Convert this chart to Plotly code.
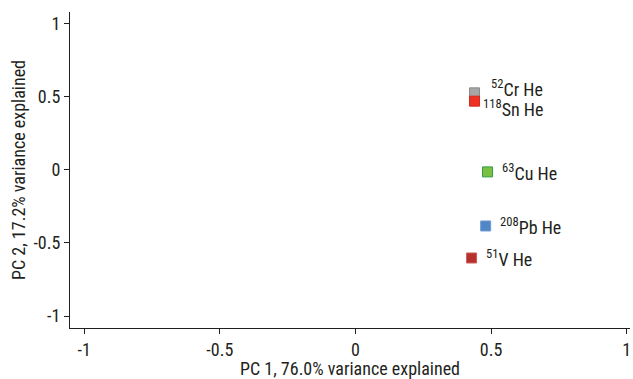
import plotly.graph_objects as go

labels = ["<sup>52</sup>Cr He", "<sup>118</sup>Sn He", "<sup>63</sup>Cu He", "<sup>208</sup>Pb He", "<sup>51</sup>V He"]
pc1 = [0.439, 0.439, 0.487, 0.480, 0.428]
pc2 = [0.527, 0.470, -0.014, -0.384, -0.603]
fill_colors = ["#a6a6a6", "#ee3124", "#7ac143", "#4f86c6", "#b7312c"]
line_colors = ["#8a8a8a", "#d02a20", "#2e9e45", "#6f9bd0", "#d05a5a"]
label_dx = [14, 6, 12, 12, 12]
label_dy = [5, -7, 0, 0, 0]

FONT = "Roboto Condensed, Liberation Sans Narrow, DejaVu Sans Condensed, Roboto, sans-serif"

fig = go.Figure()
fig.add_trace(go.Scatter(
    x=pc1, y=pc2, mode="markers",
    marker=dict(symbol="square", size=10, color=fill_colors,
                line=dict(color=line_colors, width=1)),
    showlegend=False, hoverinfo="skip",
))

for x, y, t, dx, dy in zip(pc1, pc2, labels, label_dx, label_dy):
    fig.add_annotation(x=x, y=y, text=t, showarrow=False, xanchor="left",
                       yanchor="middle", xshift=dx, yshift=dy,
                       font=dict(family=FONT, size=18, color="#231f20"))

axis_common = dict(showgrid=False, zeroline=False, showline=True, linecolor="#231f20",
                   linewidth=1, ticks="outside", ticklen=5, tickcolor="#231f20",
                   automargin=False,
                   tickfont=dict(family=FONT, size=18, color="#231f20"),
                   title_font=dict(family=FONT, size=18, color="#231f20"))

fig.update_xaxes(range=[-1.052, 1.012], tickvals=[-1, -0.5, 0, 0.5, 1],
                 ticktext=["-1", "-0.5", "0", "0.5", "1"],
                 title_text="PC 1, 76.0% variance explained", title_standoff=8,
                 **axis_common)
fig.update_yaxes(range=[-1.082, 1.08], tickvals=[-1, -0.5, 0, 0.5, 1],
                 ticktext=["-1", "-0.5", "0", "0.5", "1"],
                 title_text="PC 2, 17.2% variance explained", title_standoff=3,
                 **axis_common)

fig.update_layout(width=633, height=379, plot_bgcolor="white", paper_bgcolor="white",
                  margin=dict(l=70, r=3, t=12, b=51))

fig.write_html("out.html", config={"displayModeBar": False},
               post_script="document.body.style.margin='0';document.body.style.overflow='hidden';")
